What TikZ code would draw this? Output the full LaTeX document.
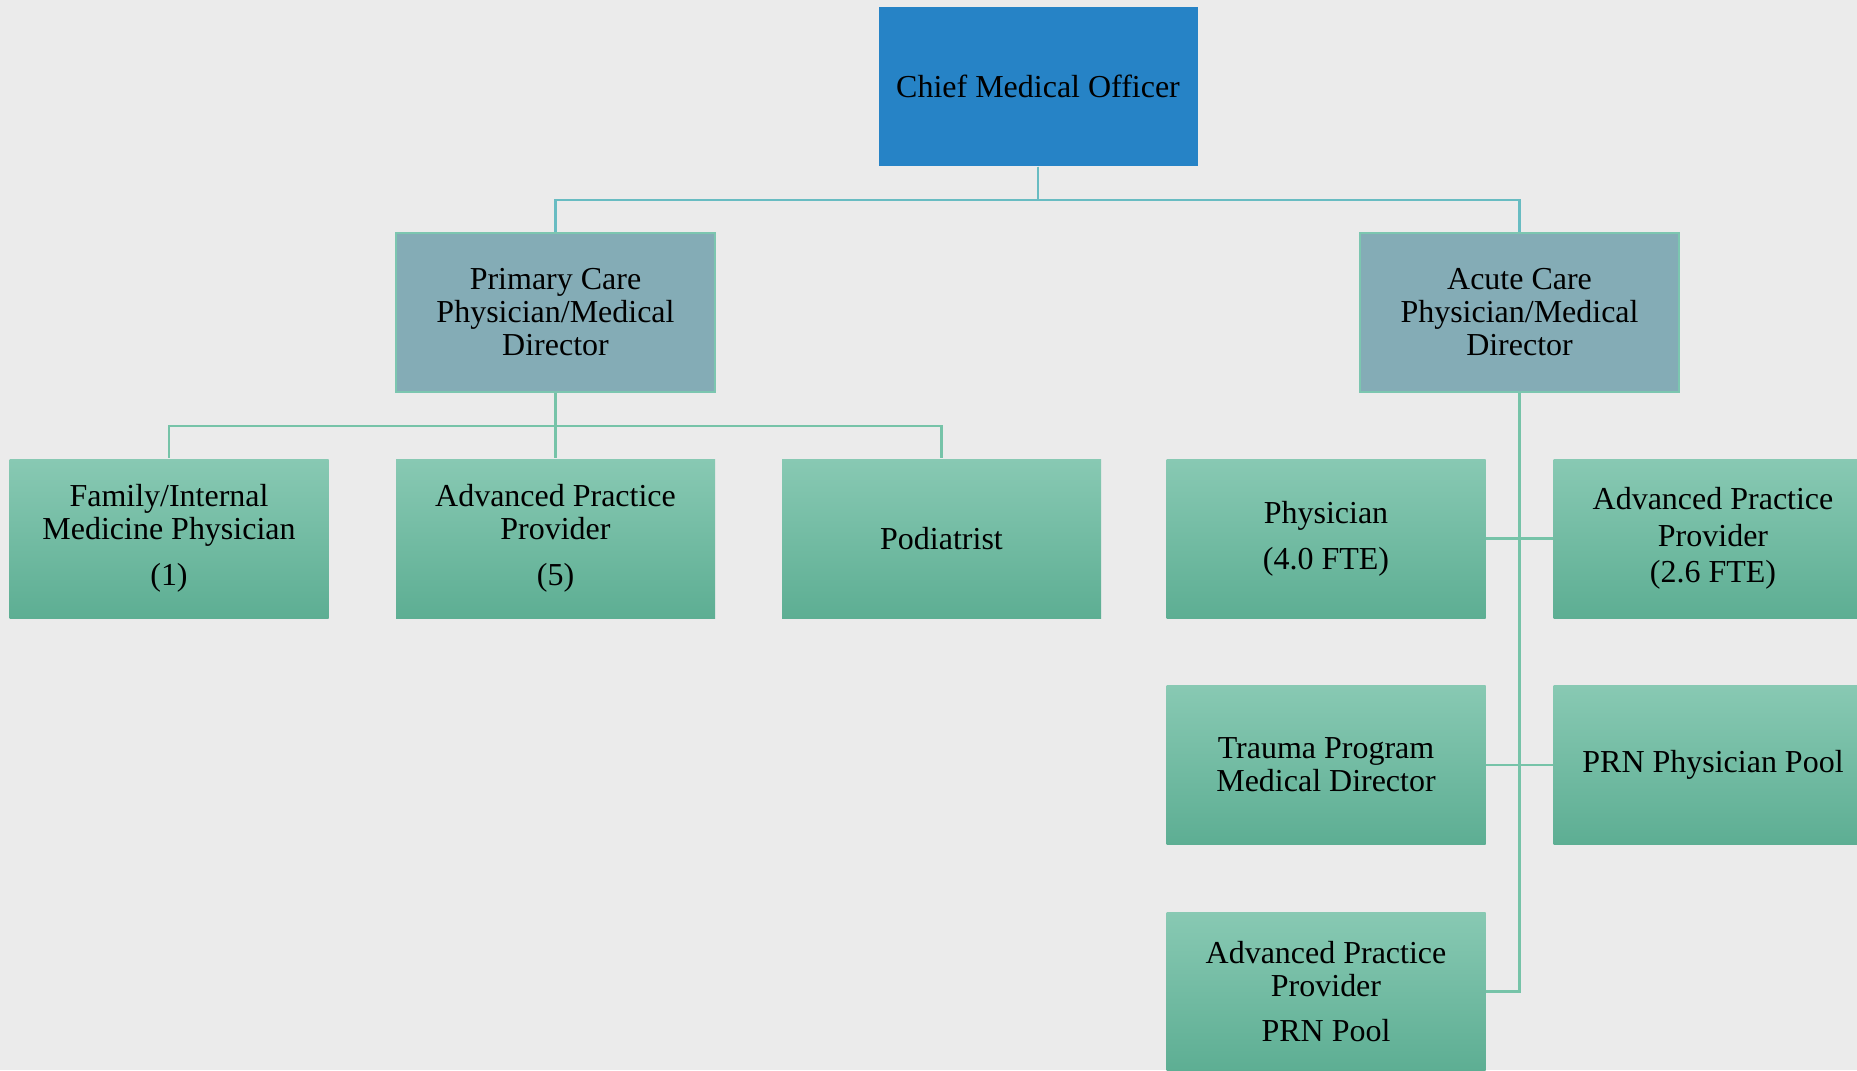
\documentclass[tikz,border=0pt]{standalone}
\usepackage{fontspec}
\setmainfont{Liberation Serif}
\usepackage{tikz}

\definecolor{paper}{HTML}{EBEBEB}
\definecolor{cmoblue}{HTML}{2683C6}
\definecolor{headgray}{HTML}{84ACB6}
\definecolor{headline}{HTML}{7CC6B0}
\definecolor{stafftop}{HTML}{88C9B3}
\definecolor{staffbot}{HTML}{5DAE93}
\definecolor{linkteal}{HTML}{68BCC2}
\definecolor{linkgreen}{HTML}{76C3A8}

\begin{document}
\begin{tikzpicture}[
	box/.style={minimum width=3.19cm, minimum height=1.59cm, inner sep=0pt, align=center, font=\fontsize{9.1}{9.4}\selectfont},
	topbox/.style={box, fill=cmoblue},
	headbox/.style={box, fill=headgray, draw=headline, line width=0.6pt},
	staffbox/.style={box, top color=stafftop, bottom color=staffbot},
	toplink/.style={draw=linkteal, line width=0.6pt},
	sublink/.style={draw=linkgreen, line width=0.6pt}]
			\fill[paper] (0,0) rectangle (18.57,-10.70);
			\useasboundingbox (0,0) rectangle (18.57,-10.70);
			% Leitung
			\node[topbox] (cmo) at (10.38,-0.865) {Chief Medical Officer};
			\node[headbox] (primary) at (5.555,-3.125) {Primary Care\\Physician/Medical\\Director};
			\node[headbox] (acute) at (15.195,-3.125) {Acute Care\\Physician/Medical\\Director};
			% Primaerversorgung
			\node[staffbox] (family) at (1.69,-5.385) {Family/Internal\\Medicine Physician\\[3.6pt](1)};
			\node[staffbox] (appprim) at (5.555,-5.385) {Advanced Practice\\Provider\\[3.6pt](5)};
			\node[staffbox] (podiatrist) at (9.415,-5.385) {Podiatrist};
			% Akutversorgung
			\node[staffbox] (physician) at (13.26,-5.385) {Physician\\[3.6pt](4.0 FTE)};
			\node[staffbox] (appacute) at (17.13,-5.385) {Advanced Practice\\[1pt]Provider\\[1pt](2.6 FTE)};
			\node[staffbox] (trauma) at (13.26,-7.65) {Trauma Program\\Medical Director};
			\node[staffbox] (prnpool) at (17.13,-7.65) {PRN Physician Pool};
			\node[staffbox] (appprn) at (13.26,-9.915) {Advanced Practice\\Provider\\[3.6pt]PRN Pool};
			% Verbindungen
			\draw[toplink] (cmo.south) -- ++(0,-0.33) -| (primary.north);
			\draw[toplink] (cmo.south) -- ++(0,-0.33) -| (acute.north);
			\draw[sublink] (primary.south) -- ++(0,-0.33) -| (family.north);
			\draw[sublink] (primary.south) -- (appprim.north);
			\draw[sublink] (primary.south) -- ++(0,-0.33) -| (podiatrist.north);
			\draw[sublink] (acute.south) |- (appprn.east);
			\draw[sublink] (physician.east) -- (appacute.west);
			\draw[sublink] (trauma.east) -- (prnpool.west);
		\end{tikzpicture}
\end{document}
